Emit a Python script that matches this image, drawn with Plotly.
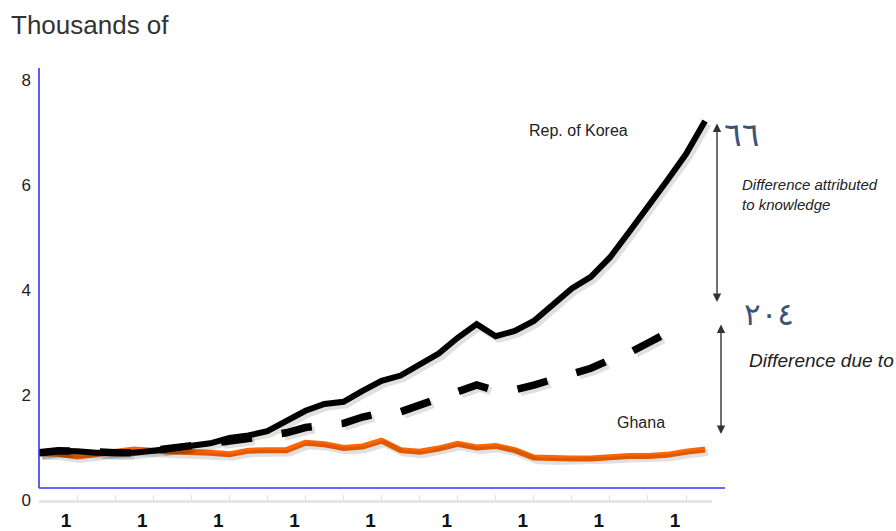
import plotly.graph_objects as go

# ---------------- data ----------------
years = list(range(1956, 1992))
korea = [0.90, 0.94, 0.93, 0.90, 0.90, 0.90, 0.94, 0.99, 1.02, 1.08,
         1.18, 1.23, 1.31, 1.49, 1.70, 1.83, 1.87, 2.08, 2.27, 2.37,
         2.57, 2.79, 3.09, 3.35, 3.12, 3.22, 3.41, 3.73, 4.03, 4.25,
         4.62, 5.10, 5.58, 6.08, 6.59, 7.22]
korea_dashed = [0.90, 0.94, 0.93, 0.90, 0.90, 0.90, 0.94, 0.99, 1.02, 1.07,
                1.12, 1.17, 1.23, 1.28, 1.38, 1.43, 1.46, 1.58, 1.66, 1.68,
                1.81, 1.93, 2.06, 2.19, 2.08, 2.10, 2.19, 2.30, 2.41, 2.51,
                2.67, 2.80, 2.99, 3.18]
ghana = [0.89, 0.88, 0.83, 0.88, 0.92, 0.96, 0.94, 0.93, 0.91, 0.90,
         0.87, 0.94, 0.95, 0.95, 1.09, 1.06, 0.99, 1.02, 1.13, 0.95,
         0.92, 0.98, 1.07, 1.00, 1.03, 0.95, 0.81, 0.79, 0.79, 0.79,
         0.82, 0.84, 0.84, 0.86, 0.92, 0.96]
x_tick_years = [1958, 1962, 1966, 1970, 1974, 1978, 1982, 1986, 1990]
x_tick_labels = ["1958", "1962", "1966", "1970", "1974", "1978", "1982", "1986", "1990"]
y_tick_values = [0, 2, 4, 6, 8]
y_tick_labels = ["0", "2", "4", "6", "8"]

# ---------------- layout geometry (pixels) ----------------
W, H = 896, 531
L, R, T, B = 39, 712, 68, 500   # plot area edges
PXY = 19.03                      # px per year
PXV = 52.5                       # px per thousand
SH = 3                           # shadow offset, px

def px(x):
    return (x - L) / (R - L)

def py(y):
    return (B - y) / (B - T)

FONT = "Liberation Sans, Arial, sans-serif"
SHADOW = "rgba(0,0,0,0.12)"

x0 = years[0]
xr = [x0, x0 + (R - L) / PXY]
yr = [0, (B - T) / PXV]

fig = go.Figure()
# soft shadows (same data on offset axes)
for data, xs, w, dash in [(ghana, years, 7, "solid"),
                          (korea, years, 7, "solid"),
                          (korea_dashed, years[:len(korea_dashed)], 8, "31px,30px")]:
    fig.add_trace(go.Scatter(x=xs, y=data, mode="lines", xaxis="x2", yaxis="y2",
                             line=dict(color=SHADOW, width=w, dash=dash),
                             hoverinfo="skip"))

fig.add_trace(go.Scatter(x=years, y=ghana, mode="lines",
                         line=dict(color="#FF6600", width=6), hoverinfo="skip"))
fig.add_trace(go.Scatter(x=years, y=korea, mode="lines",
                         line=dict(color="black", width=6), hoverinfo="skip"))
fig.add_trace(go.Scatter(x=years[:len(korea_dashed)], y=korea_dashed, mode="lines",
                         line=dict(color="black", width=7.5, dash="31px,30px"),
                         hoverinfo="skip"))

fig.update_layout(
    xaxis=dict(
        range=xr,
        showgrid=False, zeroline=False,
        showline=True, linecolor="#e6e6e6", linewidth=3,
        tickvals=x_tick_years,
        # years written one character per line; only the first digit fits on the page
        ticktext=["<br>".join(s) for s in x_tick_labels],
        ticks="inside", ticklen=5, tickcolor="#e0e0e0", tickwidth=1,
        minor=dict(dtick=2, tick0=1956, ticks="inside", ticklen=5,
                   tickcolor="#e0e0e0", tickwidth=1),
        tickfont=dict(family=FONT, size=19, color="#111", weight="bold"),
        ticklabelshift=-11, ticklabelstandoff=1,
        automargin=False, fixedrange=True,
    ),
    yaxis=dict(
        range=yr,
        showgrid=False, zeroline=False, showline=False,
        tickvals=y_tick_values, ticktext=y_tick_labels,
        tickfont=dict(family=FONT, size=17, color="#222"),
        ticks="", ticklabelstandoff=7,
        automargin=False, fixedrange=True,
    ),
    xaxis2=dict(overlaying="x", range=[xr[0] - SH / PXY, xr[1] - SH / PXY],
                visible=False, fixedrange=True),
    yaxis2=dict(overlaying="y", range=[yr[0] + SH / PXV, yr[1] + SH / PXV],
                visible=False, fixedrange=True),
)

shapes = [
    dict(type="line", xref="paper", yref="paper",
         x0=px(L), x1=px(L), y0=py(488), y1=py(68),
         line=dict(color="#3535f5", width=1.6)),
    dict(type="line", xref="paper", yref="paper",
         x0=px(L), x1=px(725), y0=py(488), y1=py(488),
         line=dict(color="#3535f5", width=1.6)),
]

annotations = [
    dict(text="Thousands of", xref="paper", yref="paper", x=px(9), y=py(8),
         xanchor="left", yanchor="top", showarrow=False,
         font=dict(family=FONT, size=26, color="#333")),
    dict(text="Rep. of Korea", xref="paper", yref="paper", x=px(527), y=py(130),
         xanchor="left", yanchor="middle", showarrow=False,
         font=dict(family=FONT, size=16, color="#222")),
    dict(text="Ghana", xref="paper", yref="paper", x=px(615), y=py(422),
         xanchor="left", yanchor="middle", showarrow=False,
         font=dict(family=FONT, size=16, color="#222")),
    dict(text="<i>Difference attributed<br>to knowledge</i>", xref="paper", yref="paper",
         x=px(740), y=py(194), xanchor="left", yanchor="middle", align="left",
         showarrow=False, font=dict(family=FONT, size=15, color="#222")),
    dict(text="<i>Difference due to</i>", xref="paper", yref="paper",
         x=px(747), y=py(360), xanchor="left", yanchor="middle", showarrow=False,
         font=dict(family=FONT, size=19, color="#222")),
    dict(text="٦٦", xref="paper", yref="paper", x=px(741), y=py(134),
         xanchor="center", yanchor="middle", showarrow=False,
         font=dict(family="DejaVu Sans, sans-serif", size=33, color="#3d5378")),
    dict(text="٢٠٤", xref="paper", yref="paper", x=px(769), y=py(314),
         xanchor="center", yanchor="middle", showarrow=False,
         font=dict(family="DejaVu Sans, sans-serif", size=31, color="#3d5378")),
    # double-headed arrows
    dict(text="", xref="paper", yref="paper", x=px(717), y=py(302),
         ax=0, ay=-180, showarrow=True, arrowside="end+start",
         arrowhead=2, arrowsize=1.2, arrowwidth=1.4, arrowcolor="#333"),
    dict(text="", xref="paper", yref="paper", x=px(721), y=py(434),
         ax=0, ay=-111, showarrow=True, arrowside="end+start",
         arrowhead=2, arrowsize=1.2, arrowwidth=1.4, arrowcolor="#333"),
]

fig.update_layout(
    width=W, height=H,
    margin=dict(l=L, r=W - R, t=T, b=H - B),
    paper_bgcolor="white", plot_bgcolor="white",
    showlegend=False,
    shapes=shapes, annotations=annotations,
)

fig.write_html("out.html")
